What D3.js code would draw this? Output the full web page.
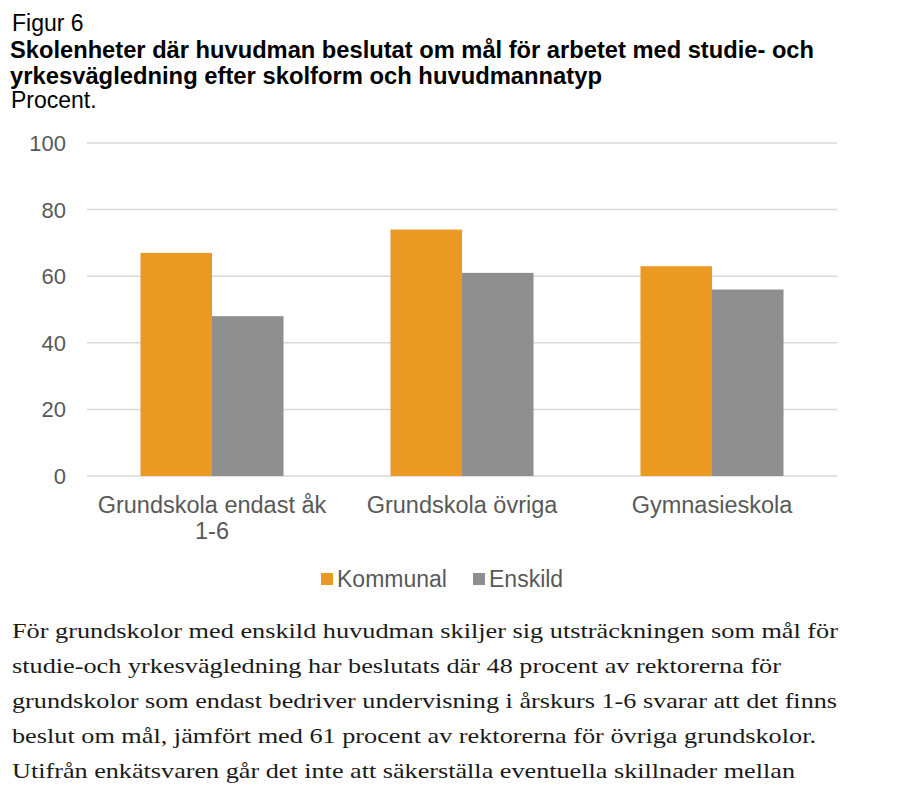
<!DOCTYPE html>
<html><head><meta charset="utf-8">
<script src="https://cdn.jsdelivr.net/npm/d3@7"></script>
<style>body{margin:0;background:#fff}svg{display:block}</style>
</head><body><svg id="c" width="901" height="786"></svg>
<script>
const categories = [["Grundskola endast åk","1-6"],["Grundskola övriga"],["Gymnasieskola"]];
const seriesNames = ["Kommunal","Enskild"];
const kommunal = [67, 74, 63];
const enskild = [48, 61, 56];
const yTicks = [0,20,40,60,80,100];
const colors = ["#EA9A22","#8F8F8F"];
const titleLines = ["Skolenheter där huvudman beslutat om mål för arbetet med studie- och","yrkesvägledning efter skolform och huvudmannatyp"];
const titleWidths = [804, 592];
const paraLines = [
 "För grundskolor med enskild huvudman skiljer sig utsträckningen som mål för",
 "studie-och yrkesvägledning har beslutats där 48 procent av rektorerna för",
 "grundskolor som endast bedriver undervisning i årskurs 1-6 svarar att det finns",
 "beslut om mål, jämfört med 61 procent av rektorerna för övriga grundskolor.",
 "Utifrån enkätsvaren går det inte att säkerställa eventuella skillnader mellan"
];
const paraWidths = [826, 769, 825, 804, 783];

const svg = d3.select("#c");
const font = "'Liberation Sans', Arial, sans-serif";
svg.append("text").attr("x",12).attr("y",31).attr("font-family",font).attr("font-size",23).attr("fill","#000").text("Figur 6");
titleLines.forEach((t,i)=>svg.append("text").attr("x",10).attr("y",58+i*26).attr("font-family",font).attr("font-size",23).attr("font-weight","bold").attr("fill","#000")
  .attr("textLength",titleWidths[i]).attr("lengthAdjust","spacingAndGlyphs").text(t));
svg.append("text").attr("x",11).attr("y",108).attr("font-family",font).attr("font-size",23).attr("fill","#000").text("Procent.");

const x0 = d3.scaleBand().domain(d3.range(categories.length)).range([87,837]).padding(0);
const x1 = d3.scaleBand().domain(seriesNames).range([0,x0.bandwidth()]).paddingInner(0).paddingOuter(0.748);
const y = d3.scaleLinear().domain([0,100]).range([476,143]);

const g = svg.append("g");
g.selectAll("line.grid").data(yTicks).join("line").attr("class","grid")
 .attr("x1",87).attr("x2",837).attr("y1",d=>y(d)).attr("y2",d=>y(d))
 .attr("stroke","#D9D9D9").attr("stroke-width",1.5);
g.selectAll("text.yt").data(yTicks).join("text").attr("class","yt")
 .attr("x",66).attr("y",d=>y(d)).attr("dy","0.36em").attr("text-anchor","end")
 .attr("font-family",font).attr("font-size",22).attr("fill","#595959").text(d=>d);

const data = categories.map((c,i)=>({i, vals:[kommunal[i], enskild[i]]}));
const grp = g.selectAll("g.cat").data(data).join("g").attr("class","cat").attr("transform",d=>`translate(${x0(d.i)},0)`);
grp.selectAll("rect").data(d=>d.vals.map((v,k)=>({v,k}))).join("rect")
 .attr("x",d=>x1(seriesNames[d.k])).attr("width",x1.bandwidth())
 .attr("y",d=>y(d.v)).attr("height",d=>y(0)-y(d.v)).attr("fill",d=>colors[d.k]);

categories.forEach((lines,i)=>{
  lines.forEach((t,j)=>svg.append("text").attr("x",x0(i)+x0.bandwidth()/2).attr("y",513+j*26)
   .attr("text-anchor","middle").attr("font-family",font).attr("font-size",23.5).attr("fill","#595959").text(t));
});

const legX = [321, 473];
seriesNames.forEach((s,k)=>{
  svg.append("rect").attr("x",legX[k]).attr("y",573).attr("width",12).attr("height",12).attr("fill",colors[k]);
  svg.append("text").attr("x",legX[k]+16).attr("y",587).attr("font-family",font).attr("font-size",23).attr("fill","#595959").text(s);
});

paraLines.forEach((t,i)=>svg.append("text").attr("x",12).attr("y",638+i*35)
  .attr("font-family","'Liberation Serif','DejaVu Serif',serif").attr("font-size",22).attr("fill","#1a1a1a")
  .attr("textLength",paraWidths[i]).attr("lengthAdjust","spacingAndGlyphs").text(t));
</script></body></html>
